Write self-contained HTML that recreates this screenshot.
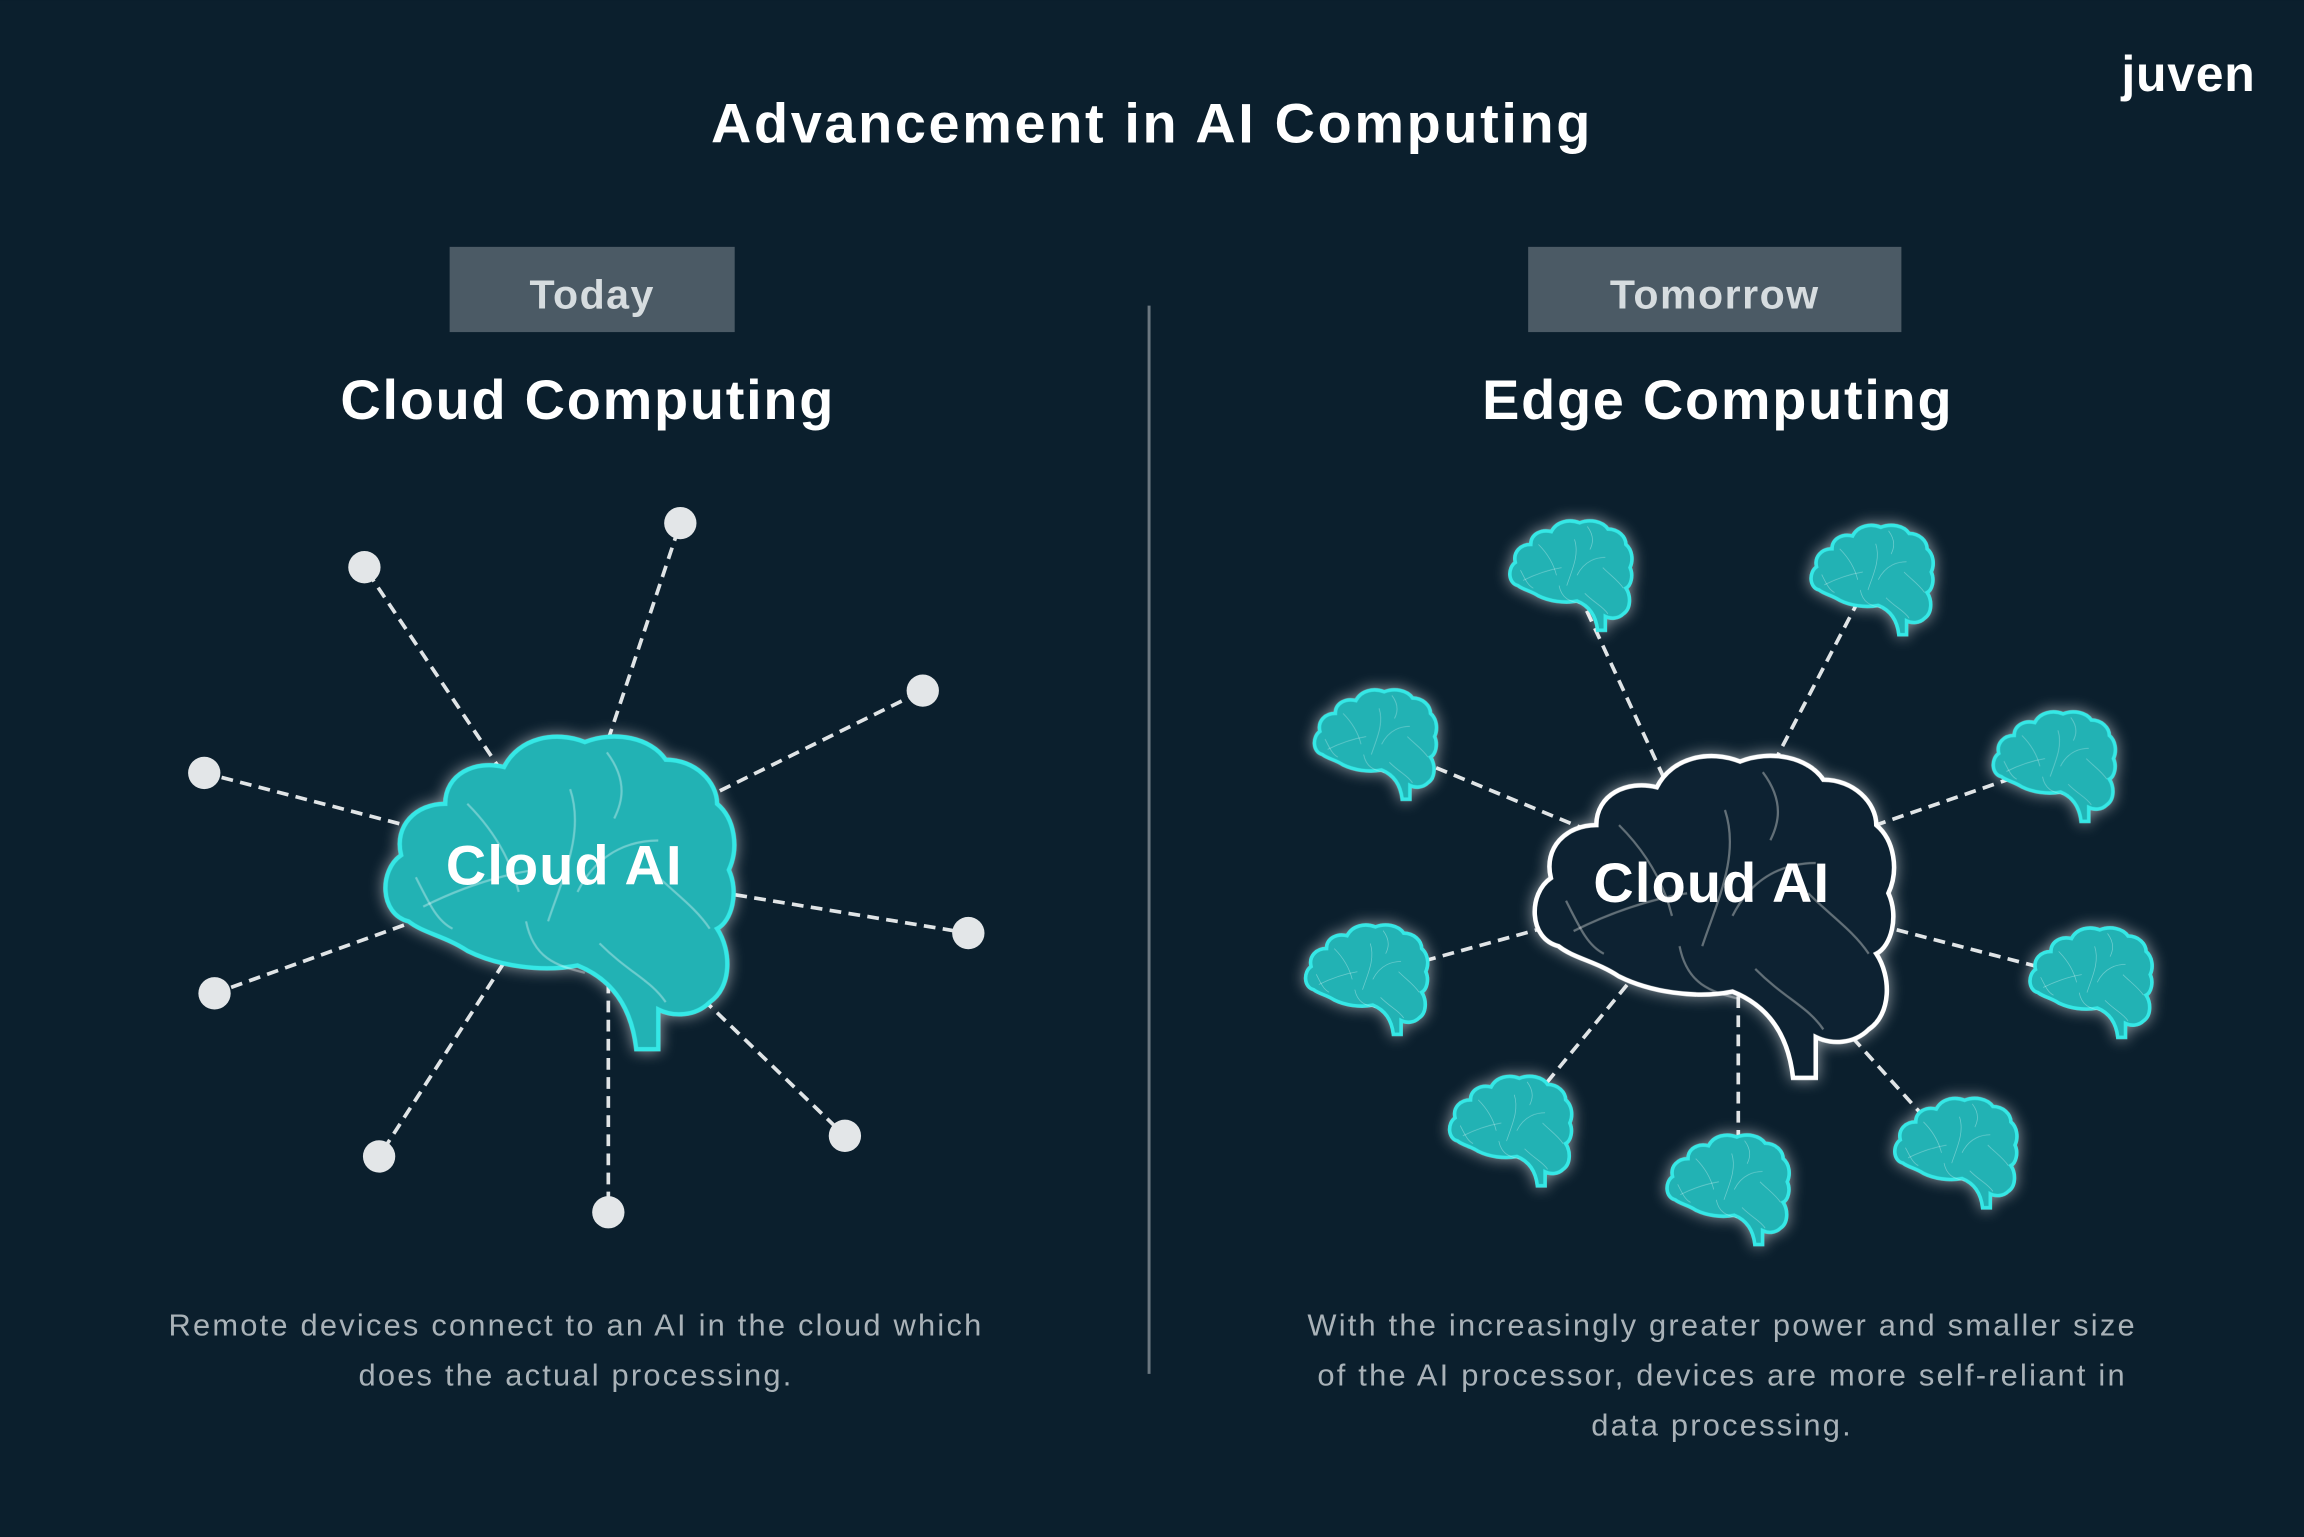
<!DOCTYPE html>
<html><head><meta charset="utf-8"><style>
html,body{margin:0;padding:0;background:#0b1f2d;}
svg{display:block}
text{font-family:"Liberation Sans",sans-serif}
</style></head><body>
<svg width="2304" height="1537" viewBox="0 0 1568 1046" xmlns="http://www.w3.org/2000/svg">
<defs>
<filter id="glow" x="-30%" y="-30%" width="160%" height="160%">
<feGaussianBlur in="SourceAlpha" stdDeviation="5" result="b"/>
<feFlood flood-color="#ffffff" flood-opacity="0.55"/><feComposite in2="b" operator="in" result="g"/>
<feMerge><feMergeNode in="g"/><feMergeNode in="SourceGraphic"/></feMerge>
</filter>
<g id="brain">
<path d="M20,130 C0,125 0,95 15,85 C10,65 25,50 45,50 C45,30 65,20 85,25 C95,5 120,0 140,8 C160,0 185,5 195,20 C215,20 230,35 230,50 C242,60 245,80 238,95 C245,110 240,130 230,135 C240,150 240,175 225,185 C215,195 200,195 190,190 L190,217 L175,217 C172,190 160,170 135,160 C110,165 80,160 60,150 C45,140 30,138 20,130 Z"/>
<g fill="none" stroke="#ffffff" stroke-opacity="0.35" stroke-width="1.5">
<path d="M60,50 C80,70 90,90 95,110"/><path d="M130,40 C140,70 125,100 115,130"/>
<path d="M155,15 C170,35 165,50 160,60"/><path d="M135,110 C150,80 175,75 190,75"/>
<path d="M30,120 C50,110 75,100 105,95"/><path d="M185,95 C200,110 215,120 225,135"/>
<path d="M150,145 C170,165 185,170 195,185"/><path d="M100,130 C105,155 120,160 140,165"/>
<path d="M25,100 C35,120 40,130 50,135"/>
</g>
</g>
</defs>
<rect width="1568" height="1046" fill="#0b1f2d"/>
<text x="784" y="97" text-anchor="middle" font-size="38" font-weight="bold" fill="#ffffff" letter-spacing="1.8">Advancement in AI Computing</text>
<text x="1535" y="62" text-anchor="end" font-size="34" font-weight="bold" fill="#ffffff" letter-spacing="0.5">juven</text>
<line x1="782" y1="208" x2="782" y2="935" stroke="#6b7780" stroke-width="2"/>
<rect x="306" y="168" width="194" height="58" fill="#4b5a65"/>
<text x="403" y="210" text-anchor="middle" font-size="28" font-weight="bold" fill="#d6dcdf" letter-spacing="1">Today</text>
<rect x="1040" y="168" width="254" height="58" fill="#4b5a65"/>
<text x="1167" y="210" text-anchor="middle" font-size="28" font-weight="bold" fill="#d6dcdf" letter-spacing="1">Tomorrow</text>
<text x="400" y="285" text-anchor="middle" font-size="38" font-weight="bold" fill="#ffffff" letter-spacing="1.2">Cloud Computing</text>
<text x="1169" y="285" text-anchor="middle" font-size="38" font-weight="bold" fill="#ffffff" letter-spacing="1.2">Edge Computing</text>
<g stroke="#e0e4e6" stroke-width="2.5" stroke-dasharray="8,5">
<line x1="385" y1="590" x2="248" y2="386"/><line x1="385" y1="590" x2="463" y2="356"/>
<line x1="385" y1="590" x2="628" y2="470"/><line x1="385" y1="590" x2="139" y2="526"/>
<line x1="385" y1="590" x2="659" y2="635"/><line x1="385" y1="590" x2="146" y2="676"/>
<line x1="385" y1="590" x2="258" y2="787"/><line x1="414" y1="590" x2="414" y2="825"/>
<line x1="385" y1="590" x2="575" y2="773"/>
<line x1="1165" y1="600" x2="1068" y2="390"/><line x1="1165" y1="600" x2="1273" y2="393"/>
<line x1="1165" y1="600" x2="935" y2="505"/><line x1="1165" y1="600" x2="1397" y2="520"/>
<line x1="1165" y1="600" x2="929" y2="665"/><line x1="1165" y1="600" x2="1422" y2="667"/>
<line x1="1165" y1="600" x2="1027" y2="768"/><line x1="1165" y1="600" x2="1330" y2="783"/>
<line x1="1183" y1="600" x2="1183" y2="790"/>
</g>
<g fill="#e3e6e8">
<circle cx="248" cy="386" r="11"/><circle cx="463" cy="356" r="11"/><circle cx="628" cy="470" r="11"/>
<circle cx="139" cy="526" r="11"/><circle cx="659" cy="635" r="11"/><circle cx="146" cy="676" r="11"/>
<circle cx="258" cy="787" r="11"/><circle cx="414" cy="825" r="11"/><circle cx="575" cy="773" r="11"/>
</g>
<g filter="url(#glow)">
<use href="#brain" transform="translate(258,497)" fill="#20b2b4" stroke="#35e8e6" stroke-width="3"/>
<use href="#brain" transform="translate(1040,510) scale(1.03)" fill="#0e2230" stroke="#ffffff" stroke-width="3"/>
<g fill="#20b2b4" stroke="#35e8e6" stroke-width="7">
<use href="#brain" transform="translate(1026,353) scale(0.35)"/>
<use href="#brain" transform="translate(1231,356) scale(0.35)"/>
<use href="#brain" transform="translate(893,468) scale(0.35)"/>
<use href="#brain" transform="translate(1355,483) scale(0.35)"/>
<use href="#brain" transform="translate(887,628) scale(0.35)"/>
<use href="#brain" transform="translate(1380,630) scale(0.35)"/>
<use href="#brain" transform="translate(985,731) scale(0.35)"/>
<use href="#brain" transform="translate(1288,746) scale(0.35)"/>
<use href="#brain" transform="translate(1133,771) scale(0.35)"/>
</g>
</g>
<text x="384" y="602" text-anchor="middle" font-size="38" font-weight="bold" fill="#ffffff" letter-spacing="0.8">Cloud AI</text>
<text x="1165" y="614" text-anchor="middle" font-size="38" font-weight="bold" fill="#ffffff" letter-spacing="0.8">Cloud AI</text>
<g font-size="21" fill="#a9b2b8" text-anchor="middle" letter-spacing="1.5">
<text x="392" y="909">Remote devices connect to an AI in the cloud which</text>
<text x="392" y="943">does the actual processing.</text>
<text x="1172" y="909">With the increasingly greater power and smaller size</text>
<text x="1172" y="943">of the AI processor, devices are more self-reliant in</text>
<text x="1172" y="977">data processing.</text>
</g>
</svg>
</body></html>
